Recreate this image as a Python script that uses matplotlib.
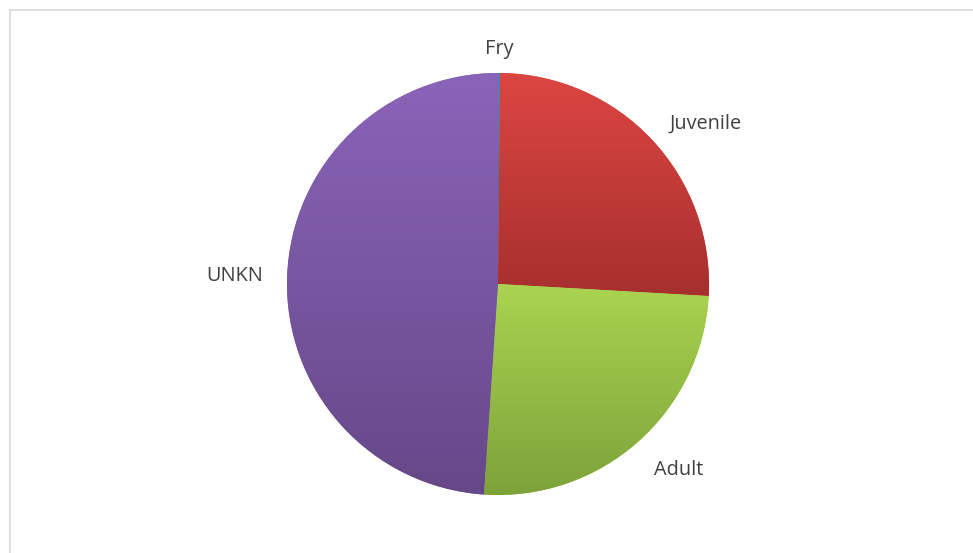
import numpy as np
import matplotlib
matplotlib.use("Agg")
import matplotlib.pyplot as plt
from matplotlib.colors import LinearSegmentedColormap
from matplotlib.lines import Line2D

# 数据
labels = ["Fry", "Juvenile", "Adult", "UNKN"]
values = [1, 170, 166, 323]
top_colors = ["#4F81BD", "#DC4642", "#AAD450", "#8A64B9"]
bottom_colors = ["#3F6BA0", "#A62F2D", "#7DA23A", "#664888"]

W, H = 973, 553
fig = plt.figure(figsize=(W / 100, H / 100), dpi=100)
ax = fig.add_axes([0, 0, 1, 1])

# 外框
fig.add_artist(Line2D([10 / W, 1], [1 - 9.5 / H, 1 - 9.5 / H], color="#D9D9D9", lw=1.2))
fig.add_artist(Line2D([10 / W, 10 / W], [0, 1 - 9.5 / H], color="#D9D9D9", lw=1.2))

cx, cy, r = 498, H - 284, 211
wedges, texts = ax.pie(values, labels=labels, colors=top_colors, startangle=90,
                       counterclock=False, center=(cx, cy), radius=r,
                       labeldistance=1.115, frame=True,
                       wedgeprops=dict(linewidth=0),
                       textprops=dict(fontsize=14.3, color="#404040",
                                      fontfamily="Open Sans"))
ax.set_xlim(0, W)
ax.set_ylim(0, H)
ax.set_aspect("equal")
ax.axis("off")

# 标签对齐（中心不在 0，需自行判断左右）
for t in texts:
    x, y = t.get_position()
    if abs(x - cx) < 5:
        t.set_ha("center")
    elif x > cx:
        t.set_ha("left")
    else:
        t.set_ha("right")
    if y < cy - 0.5 * r:
        t.set_va("top")

# 每个扇区的竖直渐变
grad = np.linspace(0, 1, 256).reshape(-1, 1)
for w, c0, c1 in zip(wedges, top_colors, bottom_colors):
    verts = w.get_patch_transform().transform(w.get_path().vertices)
    x0, x1 = verts[:, 0].min(), verts[:, 0].max()
    y0, y1 = verts[:, 1].min(), verts[:, 1].max()
    cmap = LinearSegmentedColormap.from_list("g", [c1, c0])
    im = ax.imshow(grad, cmap=cmap, extent=(x0, x1, y0, y1), origin="lower",
                   aspect="auto", zorder=w.get_zorder() + 0.1, interpolation="bilinear")
    im.set_clip_path(w)
ax.set_xlim(0, W)
ax.set_ylim(0, H)

fig.savefig("out.png", dpi=100)
